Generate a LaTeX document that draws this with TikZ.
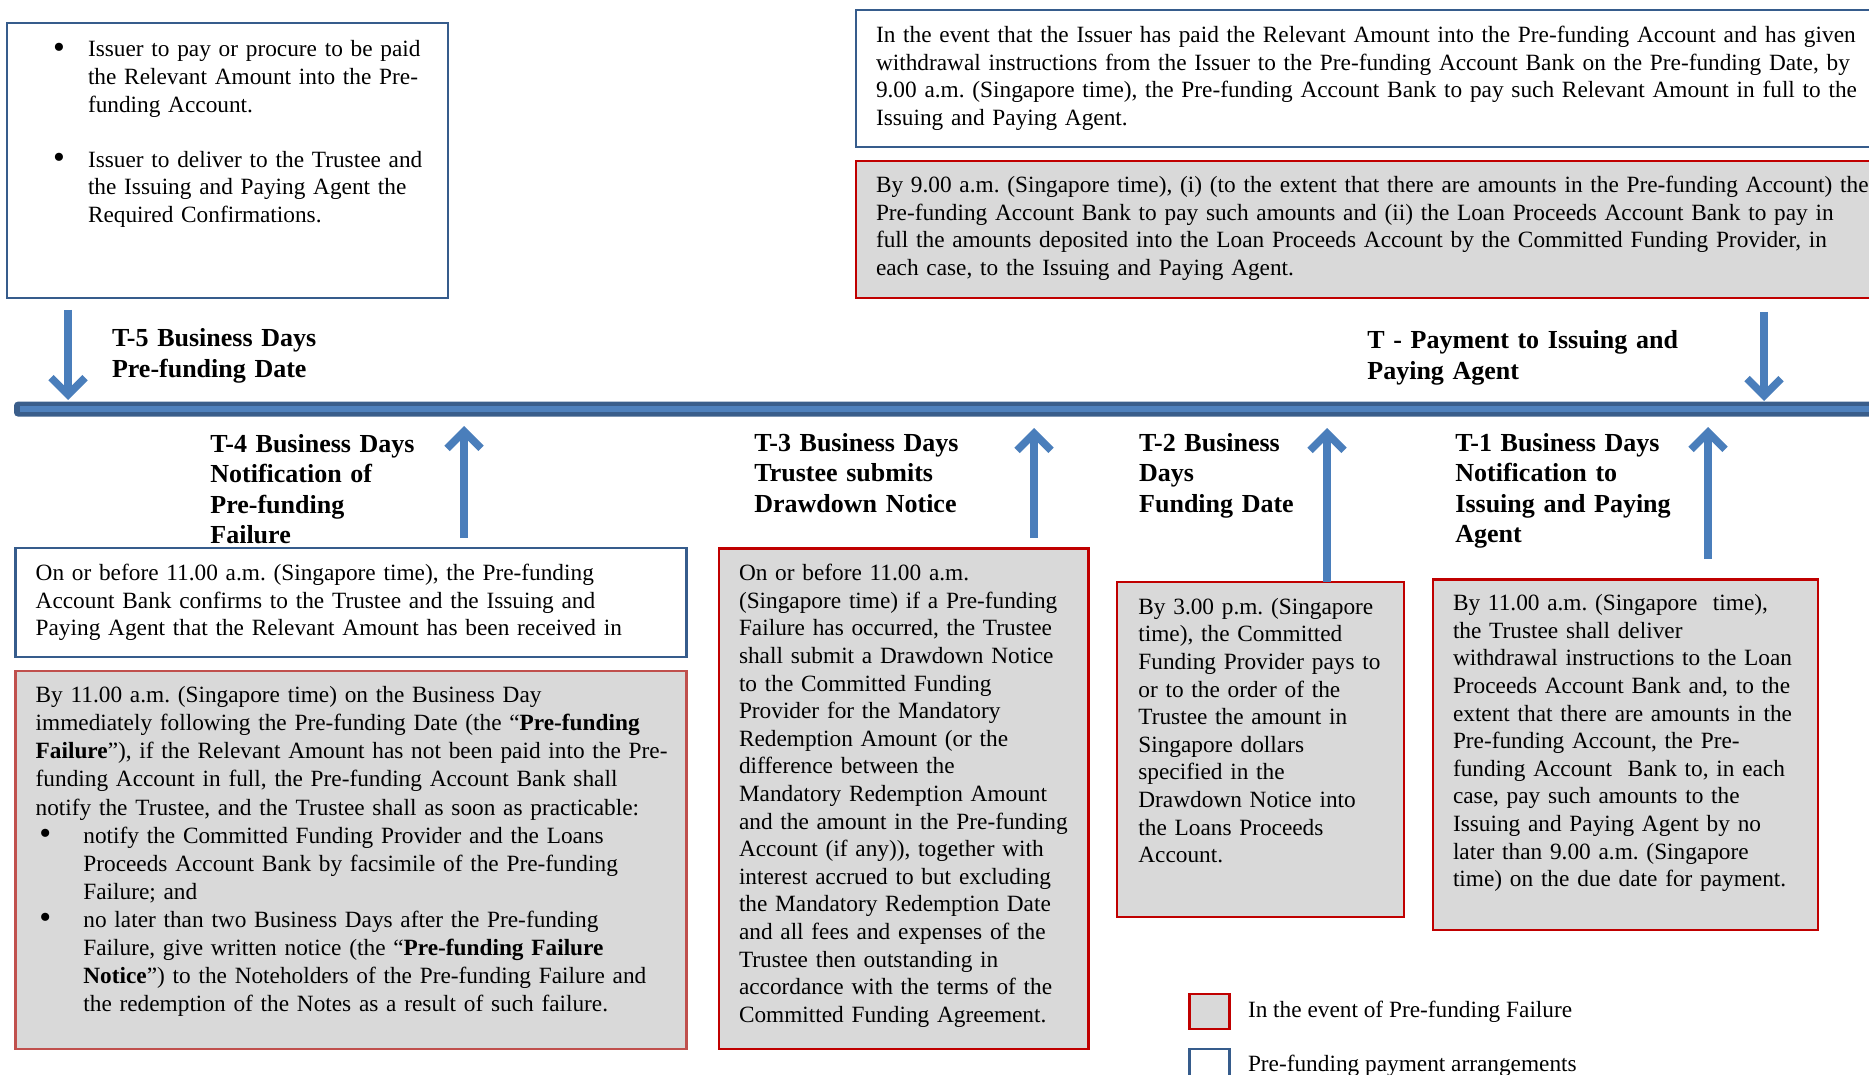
\documentclass[tikz,border=0pt]{standalone}
\usepackage{fontspec}
\setmainfont{Liberation Serif}
\usepackage{xcolor}
\usepackage{graphicx}
\usetikzlibrary{arrows.meta, positioning}
\frenchspacing

\definecolor{pfblue}{RGB}{54,92,140}
\definecolor{pfred}{RGB}{192,0,0}
\definecolor{pfpink}{RGB}{192,80,77}
\definecolor{pfgray}{RGB}{217,217,217}
\definecolor{arrowblue}{RGB}{74,126,187}
\definecolor{linedark}{RGB}{58,94,139}
\definecolor{linelight}{RGB}{79,129,189}

\newcommand{\bigbullet}{\raisebox{-0.6pt}{\scalebox{1.45}{\textbullet}}}

\begin{document}
\begin{tikzpicture}[
  x=1pt, y=-1pt,
  font=\fontsize{11.65}{13.8}\selectfont,
  plainbox/.style={
    draw=pfblue,
    fill=white,
    line width=1.1pt,
    anchor=north west,
    align=left,
    inner sep=0pt,
    outer sep=0pt
  },
  failbox/.style={
    draw=pfred,
    fill=pfgray,
    line width=1.1pt,
    anchor=north west,
    align=left,
    inner sep=0pt,
    outer sep=0pt
  },
  pad/.style={execute at begin node={\leftskip=#1}},
  daylabel/.style={
    font=\fontsize{13}{15.3}\selectfont\bfseries,
    anchor=base west,
    align=left,
    text width=200pt,
    inner sep=0pt
  },
  dayarrow/.style={
    draw=arrowblue,
    line width=3.8pt,
    -{Straight Barb[length=8.5pt, width=17pt]}
  },
  legkey/.style={
    anchor=north west,
    line width=1.1pt,
    minimum width=20pt,
    minimum height=17.3pt,
    inner sep=0pt
  }
]

\useasboundingbox (0,0) rectangle (934.5,537.5);

% -------------------------------------------------------------------
% Top boxes
% -------------------------------------------------------------------
\node[plainbox, pad=23pt, text width=220.5pt, text height=17pt, text depth=120.5pt]
  (issuerbox) at (3.5,11.5)
{\makebox[17.5pt][l]{\bigbullet}Issuer to pay or procure to be paid\\
 \hspace*{17.5pt}the Relevant Amount into the Pre-\\
 \hspace*{17.5pt}funding Account.\\[13.8pt]
 \makebox[17.5pt][l]{\bigbullet}Issuer to deliver to the Trustee and\\
 \hspace*{17.5pt}the Issuing and Paying Agent the\\
 \hspace*{17.5pt}Required Confirmations.};

\node[plainbox, pad=10pt, text width=530pt, text height=16.3pt, text depth=52.2pt]
  (paidbox) at (428,5)
{In the event that the Issuer has paid the Relevant Amount into the Pre-funding Account and has given\\
 withdrawal instructions from the Issuer to the Pre-funding Account Bank on the Pre-funding Date, by\\
 9.00 a.m. (Singapore time), the Pre-funding Account Bank to pay such Relevant Amount in full to the\\
 Issuing and Paying Agent.};

\node[failbox, pad=10pt, text width=530pt, text height=15.8pt, text depth=52.7pt]
  (paybox) at (428,80.5)
{By 9.00 a.m. (Singapore time), (i) (to the extent that there are amounts in the Pre-funding Account) the\\
 Pre-funding Account Bank to pay such amounts and (ii) the Loan Proceeds Account Bank to pay in\\
 full the amounts deposited into the Loan Proceeds Account by the Committed Funding Provider, in\\
 each case, to the Issuing and Paying Agent.};

% -------------------------------------------------------------------
% Time line
% -------------------------------------------------------------------
\fill[linedark, rounded corners=2pt] (7,200.8) rectangle (945,208.3);
\draw[linelight, line width=2.8pt] (10,204.5) -- (945,204.5);

\coordinate (t5) at (34,200);
\coordinate (t5top) at (34,155);
\coordinate (t0) at (882,200.5);
\coordinate (t0top) at (882,156);
\coordinate (t4) at (232,213);
\coordinate (t4foot) at (232,269);
\coordinate (t3) at (517,214);
\coordinate (t3foot) at (517,269);
\coordinate (t2) at (663.5,214);
\coordinate (t1) at (854,213.5);
\coordinate (t1foot) at (854,279.5);

\node[daylabel] (t5label) at (55.8,173.3) {T-5 Business Days\\Pre-funding Date};
\node[daylabel] (t0label) at (683.5,174.4) {T - Payment to Issuing and\\Paying Agent};
\node[daylabel] (t4label) at (105,226)
  {T-4 Business Days\\Notification of\\Pre-funding\\Failure};
\node[daylabel] (t3label) at (377,225.5)
  {T-3 Business Days\\Trustee submits\\Drawdown Notice};
\node[daylabel] (t2label) at (569.4,225.5)
  {T-2 Business\\Days\\Funding Date};
\node[daylabel] (t1label) at (727.5,225.5)
  {T-1 Business Days\\Notification to\\Issuing and Paying\\Agent};

% -------------------------------------------------------------------
% Boxes below the line
% -------------------------------------------------------------------
\node[plainbox, pad=10.1pt, text width=335.5pt, text height=16.3pt, text depth=38.1pt]
  (confbox) at (7.75,274)
{On or before 11.00 a.m. (Singapore time), the Pre-funding\\
 Account Bank confirms to the Trustee and the Issuing and\\
 Paying Agent that the Relevant Amount has been received in};

\node[failbox, draw=pfpink, pad=10.1pt, text width=335.5pt, text height=15.8pt, text depth=173.2pt,
  font=\fontsize{11.65}{14.05}\selectfont]
  (failbox) at (7.75,335.5)
{By 11.00 a.m. (Singapore time) on the Business Day\\
 immediately following the Pre-funding Date (the “\textbf{Pre-funding}\\
 \textbf{Failure}”), if the Relevant Amount has not been paid into the Pre-\\
 funding Account in full, the Pre-funding Account Bank shall\\
 notify the Trustee, and the Trustee shall as soon as practicable:\\
 \hspace*{1.85pt}\makebox[22pt][l]{\bigbullet}notify the Committed Funding Provider and the Loans\\
 \hspace*{23.85pt}Proceeds Account Bank by facsimile of the Pre-funding\\
 \hspace*{23.85pt}Failure; and\\
 \hspace*{1.85pt}\makebox[22pt][l]{\bigbullet}no later than two Business Days after the Pre-funding\\
 \hspace*{23.85pt}Failure, give written notice (the “\textbf{Pre-funding Failure}\\
 \hspace*{23.85pt}\textbf{Notice}”) to the Noteholders of the Pre-funding Failure and\\
 \hspace*{23.85pt}the redemption of the Notes as a result of such failure.};

\node[failbox, pad=10.1pt, text width=184.8pt, text height=16.1pt, text depth=234.2pt]
  (drawbox) at (359.4,274.2)
{On or before 11.00 a.m.\\
 (Singapore time) if a Pre-funding\\
 Failure has occurred, the Trustee\\
 shall submit a Drawdown Notice\\
 to the Committed Funding\\
 Provider for the Mandatory\\
 Redemption Amount (or the\\
 difference between the\\
 Mandatory Redemption Amount\\
 and the amount in the Pre-funding\\
 Account (if any)), together with\\
 interest accrued to but excluding\\
 the Mandatory Redemption Date\\
 and all fees and expenses of the\\
 Trustee then outstanding in\\
 accordance with the terms of the\\
 Committed Funding Agreement.};

\node[failbox, pad=10.7pt, text width=143.6pt, text height=16.2pt, text depth=151.3pt]
  (fundbox) at (558.5,290.9)
{By 3.00 p.m. (Singapore\\
 time), the Committed\\
 Funding Provider pays to\\
 or to the order of the\\
 Trustee the amount in\\
 Singapore dollars\\
 specified in the\\
 Drawdown Notice into\\
 the Loans Proceeds\\
 Account.};

\node[failbox, pad=10.1pt, text width=192.5pt, text height=15.6pt, text depth=159.6pt]
  (instrbox) at (716.4,289.7)
{By 11.00 a.m. (Singapore\ \ time),\\
 the Trustee shall deliver\\
 withdrawal instructions to the Loan\\
 Proceeds Account Bank and, to the\\
 extent that there are amounts in the\\
 Pre-funding Account, the Pre-\\
 funding Account\ \ Bank to, in each\\
 case, pay such amounts to the\\
 Issuing and Paying Agent by no\\
 later than 9.00 a.m. (Singapore\\
 time) on the due date for payment.};

% Arrows to the time line
\draw[dayarrow] (t5top) -- (t5);
\draw[dayarrow] (t0top) -- (t0);
\draw[dayarrow] (t4foot) -- (t4);
\draw[dayarrow] (t3foot) -- (t3);
\draw[dayarrow] (fundbox.north -| t2) -- (t2);
\draw[dayarrow] (t1foot) -- (t1);

% Legend
\node[legkey, draw=pfred, fill=pfgray] (legfail) at (594.2,496.5) {};
\node[right=8.5pt of legfail, inner sep=0pt] (legfailtext) {In the event of Pre-funding Failure};
\node[legkey, draw=pfblue, fill=white] (legplain) at (594.2,523.9) {};
\node[right=8.5pt of legplain, inner sep=0pt] (legplaintext) {Pre-funding payment arrangements};

\end{tikzpicture}
\end{document}
